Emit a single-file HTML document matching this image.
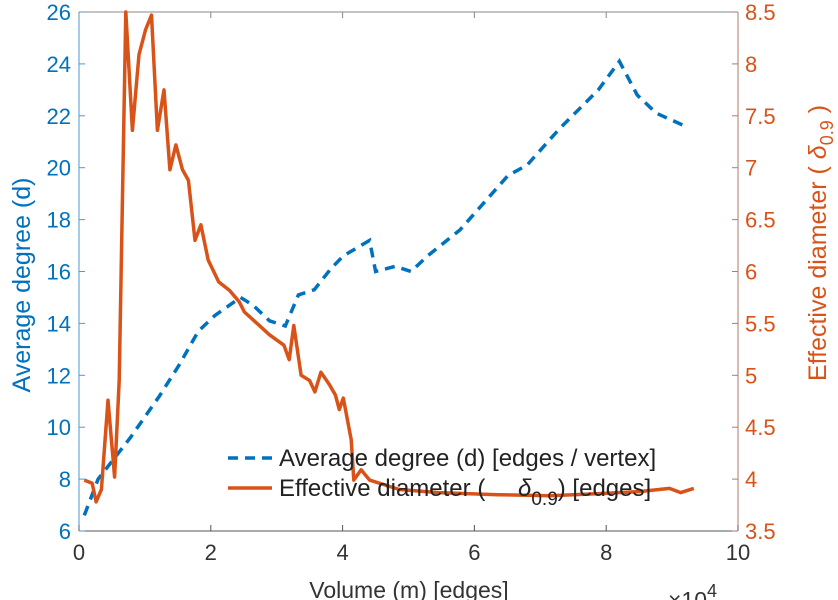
<!DOCTYPE html>
<html><head><meta charset="utf-8"><style>
html,body{margin:0;padding:0;background:#fff;}
svg{display:block;font-family:"Liberation Sans",sans-serif;}
</style></head><body>
<svg width="838" height="600" viewBox="0 0 838 600">
<g id="axes"></g>
<g id="series"></g>
<g id="legend">
  <line x1="228" y1="458" x2="272" y2="458" stroke="#0072BD" stroke-width="3.5" stroke-dasharray="10,7"/>
  <text x="279" y="466" font-size="24" fill="#222">Average degree (d) [edges / vertex]</text>
  <line x1="228" y1="488" x2="272" y2="488" stroke="#D95319" stroke-width="3.5"/>
  <text x="279" y="496" font-size="24" fill="#222">Effective diameter (<tspan x="518" font-style="italic">δ</tspan><tspan font-size="19" dy="9">0.9</tspan><tspan dy="-9">) [edges]</tspan></text>
</g>
<text x="409" y="598" font-size="23" fill="#333" text-anchor="middle">Volume (m) [edges]</text>
<text x="668" y="608" font-size="23" fill="#333">×10<tspan font-size="18" dy="-11">4</tspan></text>
<text transform="translate(30,285) rotate(-90)" font-size="25" fill="#0072BD" text-anchor="middle">Average degree (d)</text>
<text transform="translate(826,243) rotate(-90)" font-size="25" fill="#D95319" text-anchor="middle">Effective diameter (      <tspan font-style="italic">δ</tspan><tspan font-size="18" dy="7">0.9</tspan><tspan dy="-7"> )</tspan></text>
</svg>
<script>
const xTicks=[0,2,4,6,8,10];
const leftTicks=[6,8,10,12,14,16,18,20,22,24,26];
const rightTicks=[3.5,4,4.5,5,5.5,6,6.5,7,7.5,8,8.5];
const degX=[0.08,0.29,0.78,1.22,1.52,1.81,2.06,2.45,2.64,2.89,3.13,3.33,3.57,3.82,4.01,4.41,4.5,4.8,5.04,5.29,5.78,6.51,6.8,7.29,7.88,8.2,8.47,8.76,9.2];
const degY=[6.6,8.0,9.6,11.2,12.4,13.7,14.3,15.0,14.7,14.1,13.9,15.1,15.3,16.1,16.6,17.2,16.0,16.2,16.0,16.6,17.6,19.7,20.1,21.5,23.0,24.1,22.8,22.1,21.6];
const diaX=[0.08,0.2,0.26,0.34,0.44,0.54,0.61,0.71,0.81,0.91,1.01,1.1,1.19,1.29,1.38,1.47,1.57,1.66,1.76,1.85,1.96,2.12,2.28,2.43,2.51,2.65,2.89,3.11,3.19,3.26,3.37,3.5,3.58,3.67,3.8,3.89,3.95,4.01,4.13,4.17,4.28,4.41,4.86,5.46,6.36,7.15,7.89,8.5,8.96,9.13,9.33];
const diaY=[3.99,3.96,3.78,3.9,4.76,4.02,4.95,8.5,7.36,8.09,8.33,8.47,7.36,7.75,6.98,7.22,6.98,6.88,6.3,6.45,6.11,5.9,5.82,5.71,5.61,5.53,5.39,5.29,5.15,5.48,5.0,4.95,4.84,5.03,4.91,4.81,4.67,4.78,4.38,3.99,4.09,3.99,3.9,3.87,3.85,3.84,3.86,3.88,3.91,3.87,3.91];
const L=79,R=738,T=12,B=531;
const sx=v=>L+(v-0)/10*(R-L);
const sl=v=>B-(v-6)/20*(B-T);
const sr=v=>B-(v-3.5)/5*(B-T);
const NS='http://www.w3.org/2000/svg';
function mk(tag,attrs,parent){const e=document.createElementNS(NS,tag);for(const k in attrs)e.setAttribute(k,attrs[k]);parent.appendChild(e);return e;}
const ax=document.getElementById('axes');
let e;
e=mk('line',{x1:L,y1:T,x2:R,y2:T,stroke:'#888','stroke-width':1},ax);


e=mk('line',{x1:L,y1:B,x2:R,y2:B,stroke:'#555','stroke-width':1},ax);


e=mk('line',{x1:L,y1:T,x2:L,y2:B,stroke:'#4a9ad6','stroke-width':1},ax);


e=mk('line',{x1:R,y1:T,x2:R,y2:B,stroke:'#b07a6a','stroke-width':1},ax);


xTicks.forEach(t=>{const x=sx(t);
 e=mk('line',{x1:x,y1:B,x2:x,y2:B-6,stroke:'#555'},ax);
 
 
 e=mk('line',{x1:x,y1:T,x2:x,y2:T+6,stroke:'#888'},ax);
 
 
 e=mk('text',{x:x,y:B+29,'font-size':22,fill:'#333','text-anchor':'middle'},ax);e.textContent=t;
 
 
});
leftTicks.forEach(t=>{const y=sl(t);
 e=mk('line',{x1:L,y1:y,x2:L+6,y2:y,stroke:'#4a9ad6'},ax);
 
 
 e=mk('text',{x:L-8,y:y+8,'font-size':22,fill:'#0072BD','text-anchor':'end'},ax);e.textContent=t;
 
 
});
rightTicks.forEach(t=>{const y=sr(t);
 e=mk('line',{x1:R,y1:y,x2:R-6,y2:y,stroke:'#b07a6a'},ax);
 
 
 e=mk('text',{x:R+7,y:y+8,'font-size':22,fill:'#D95319'},ax);e.textContent=t;
 
 
});
const sg=document.getElementById('series');
const dp=degX.map((v,i)=>sx(v).toFixed(1)+','+sl(degY[i]).toFixed(1)).join(' ');
e=mk('polyline',{points:dp,fill:'none',stroke:'#0072BD','stroke-width':3.5,'stroke-dasharray':'10,7'},sg);


const rp=diaX.map((v,i)=>sx(v).toFixed(1)+','+sr(diaY[i]).toFixed(1)).join(' ');
e=mk('polyline',{points:rp,fill:'none',stroke:'#D95319','stroke-width':3.5,'stroke-linejoin':'round'},sg);


</script>
</body></html>
